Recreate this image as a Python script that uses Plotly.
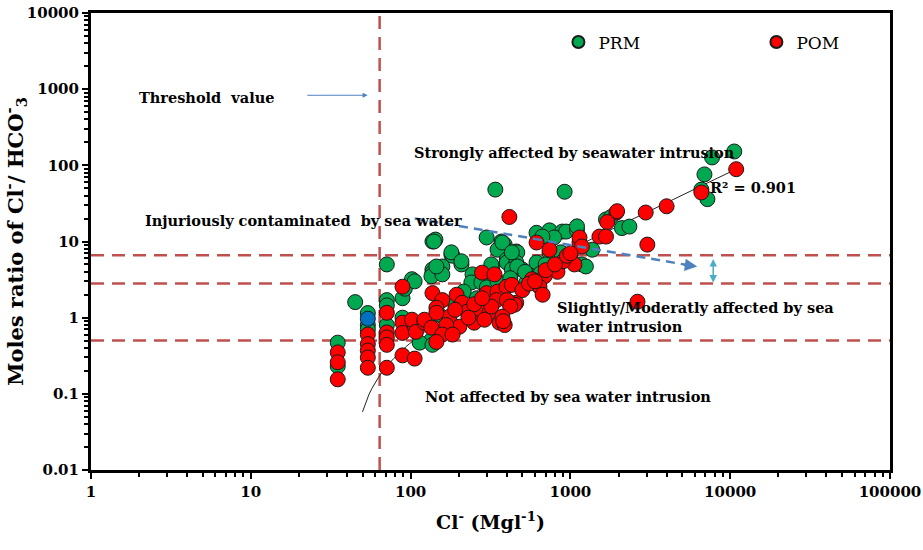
import math
import numpy as np
import plotly.graph_objects as go

# ---------------- data ----------------
prm_cl = [35, 35, 45, 54, 54, 54, 71, 71, 71, 71, 89, 89, 92, 102, 106,
          137, 143, 140, 137, 137, 135, 158, 158, 145, 180, 183, 180, 208, 208,
          244, 240, 277, 215, 233, 135, 114, 137,
          339, 920,
          299, 388, 370, 385, 350, 458, 465, 400, 400, 325, 320, 458, 430, 500, 465, 375, 430,
          614, 740, 740, 890, 940, 1100, 1100, 790, 668,
          1370, 740, 614, 1180, 1250, 870, 1000,
          575, 575, 530,
          1670, 1800, 2100, 2340,
          10600, 7700, 6900, 6600, 7200,
          150, 190, 260, 300, 350, 420, 520, 650, 700, 800]
prm_ratio = [0.47, 0.23, 1.6, 1.15, 0.8, 0.7, 5.0, 1.7, 1.45, 0.8, 1.8, 1.0, 2.4, 3.2, 3.0,
             10, 10.6, 10, 4.3, 3.9, 3.5, 4.7, 3.7, 4.7, 6.7, 6.5, 7.2, 5.0, 5.5,
             3.7, 2.9, 2.9, 2.2, 1.03, 0.51, 0.47, 0.44,
             48, 45,
             11.3, 9.1, 10, 8.3, 7.8, 7.4, 7.2, 5.8, 5.3, 4.7, 5.0, 5.3, 4.3, 4.3, 4.7, 9.7, 7.2,
             13, 13.5, 14, 13.5, 13.5, 14, 15.8, 11.3, 11.6,
             7.8, 7.1, 5.3, 5.0, 4.7, 7.2, 6.7,
             3.2, 3.5, 2.9,
             19.5, 21, 15, 15.7,
             152, 127, 76, 48, 36,
             1.1, 1.5, 1.8, 2.5, 3.0, 3.3, 4.0, 3.8, 5.0, 4.5]

pom_cl = [35, 35, 35,
          54, 54, 54, 54, 54,
          71, 71, 71, 71, 71,
          89, 89, 89, 89,
          106, 106, 102, 108, 122, 122,
          137, 158, 194, 145, 175, 210, 226, 270, 299, 280, 335, 350, 345, 398, 430, 458,
          311, 360, 250, 202, 167, 135, 158, 183, 145, 290, 388, 448, 145, 190,
          415,
          1940, 1700, 1520, 1140, 1140, 740, 1060, 830, 690, 575, 640, 670, 400, 420, 375, 380,
          614, 1180,
          10900, 6600, 4000, 2960, 1960, 1670, 3030,
          2630,
          500, 550, 600, 700, 900, 950, 1000, 800, 250, 230, 320, 280]
pom_ratio = [0.35, 0.26, 0.155,
             0.6, 0.45, 0.37, 0.3, 0.22,
             1.16, 0.64, 0.55, 0.44, 0.22,
             2.55, 0.86, 0.63, 0.32,
             0.76, 0.29, 0.94, 0.65, 0.86, 0.94,
             2.1, 1.7, 2.0, 1.35, 1.03, 1.57, 1.2, 1.27, 2.1, 3.9, 3.7, 2.2, 1.7, 2.55, 2.7, 1.57,
             1.16, 0.86, 0.86, 0.76, 0.8, 0.74, 0.6, 0.6, 0.48, 0.94, 0.8, 1.48, 1.16, 1.27,
             21,
             24, 18, 11.6, 9.7, 11.3, 7.8, 5.0, 4.0, 3.5, 3.2, 2.55, 2.0, 1.7, 1.4, 1.03, 0.9,
             9.7, 8.6,
             89, 44, 29, 24, 25, 11.6, 9.1,
             1.62,
             2.3, 2.8, 3.0, 4.2, 5.5, 6.5, 7.0, 5.0, 1.5, 1.0, 1.4, 1.8]

blue_cl = [54]
blue_ratio = [0.97]

# linear trend line (R² = 0.901): ratio = slope * Cl + intercept
trend_slope = 0.0082
trend_intercept = -0.352
trend_range = [50, 10900]

threshold_cl = [64]
ratio_limits = [0.5, 2.8, 6.6]

x_tickvals = [1, 10, 100, 1000, 10000, 100000]
x_ticktext = ["1", "10", "100", "1000", "10000", "100000"]
y_tickvals = [0.01, 0.1, 1, 10, 100, 1000, 10000]
y_ticktext = ["0.01", "0.1", "1", "10", "100", "1000", "10000"]

# ---------------- figure ----------------
FONT = "DejaVu Serif"
GREEN = "#00A84F"
RED = "#FF0000"
BLUE = "#0070C0"
DASHRED = "#C0504D"

fig = go.Figure()

tx = np.logspace(math.log10(trend_range[0]), math.log10(trend_range[1]), 120)
ty = trend_slope * tx + trend_intercept
fig.add_trace(go.Scatter(x=tx, y=ty, mode="lines",
                         line=dict(color="#222222", width=1), showlegend=False,
                         hoverinfo="skip"))

fig.add_trace(go.Scatter(x=prm_cl, y=prm_ratio, mode="markers", name="PRM",
                         marker=dict(color=GREEN, size=15,
                                     line=dict(color="#1a1a1a", width=1))))
fig.add_trace(go.Scatter(x=pom_cl, y=pom_ratio, mode="markers", name="POM",
                         marker=dict(color=RED, size=15,
                                     line=dict(color="#1a1a1a", width=1))))
fig.add_trace(go.Scatter(x=blue_cl, y=blue_ratio, mode="markers", showlegend=False,
                         marker=dict(color=BLUE, size=15,
                                     line=dict(color="#1a1a1a", width=1))))

# dashed threshold lines
for t in threshold_cl:
    fig.add_shape(type="line", xref="x", yref="paper", x0=t, x1=t, y0=0, y1=1,
                  line=dict(color=DASHRED, width=2.5, dash="13px,8px"), layer="below")
for r in ratio_limits:
    fig.add_shape(type="line", xref="paper", yref="y", x0=0, x1=1, y0=r, y1=r,
                  line=dict(color=DASHRED, width=2.5, dash="13px,8px"), layer="below")

# blue dashed arrow
arr_tail = (106, 20.1)
arr_head = (6220, 4.69)
fig.add_shape(type="line", xref="x", yref="y", x0=arr_tail[0], y0=arr_tail[1],
              x1=5600, y1=4.85, line=dict(color="#4F81BD", width=2.5, dash="9px,6px"))
fig.add_annotation(x=math.log10(arr_head[0]), y=math.log10(arr_head[1]),
                   ax=math.log10(5000), ay=math.log10(5.0), axref="x", ayref="y",
                   xref="x", yref="y", text="", showarrow=True, arrowhead=2,
                   arrowsize=1, arrowwidth=2.5, arrowcolor="#4F81BD")

# cyan double arrow
fig.add_annotation(x=math.log10(7830), y=math.log10(2.89),
                   ax=math.log10(7830), ay=math.log10(6.15), axref="x", ayref="y",
                   xref="x", yref="y", text="", showarrow=True, arrowhead=2,
                   startarrowhead=2, arrowside="end+start", arrowsize=1,
                   startarrowsize=1, arrowwidth=1.5, arrowcolor="#4BACC6")

# threshold arrow
fig.add_annotation(x=1.731, y=2.92, ax=1.344, ay=2.92, axref="x", ayref="y",
                   xref="x", yref="y", text="", showarrow=True, arrowhead=2,
                   arrowsize=1, arrowwidth=1, arrowcolor="#4F81BD")

tf = dict(family=FONT, size=14.5, color="black", weight="bold")
texts = [
    ("Threshold  value", 0.725, 2.895, "center"),
    ("Strongly affected by seawater intrusion", 3.025, 2.171, "center"),
    ("Injuriously contaminated  by sea water", 1.331, 1.276, "center"),
    ("R² = 0.901", 4.144, 1.71, "center"),
    ("Not affected by sea water intrusion", 2.988, -1.04, "center"),
]
for t, x, y, anc in texts:
    fig.add_annotation(x=x, y=y, xref="x", yref="y", text=t, showarrow=False,
                       font=tf, xanchor=anc, yanchor="middle")
fig.add_annotation(x=2.9, y=0.013, xref="x", yref="y",
                   text="Slightly/Moderatly affected by sea<br>water intrusion",
                   showarrow=False, font=tf, xanchor="left", yanchor="middle",
                   align="left")

axis_common = dict(showline=True, linecolor="black", linewidth=3, mirror=True,
                   showgrid=False, zeroline=False, ticks="outside", ticklen=6,
                   tickwidth=2, tickcolor="black",
                   tickfont=dict(family=FONT, size=15, color="black", weight="bold"))

x_minor = [d * m for d in [1, 10, 100, 1000, 10000] for m in range(2, 10)]
y_minor = [d * m for d in [0.01, 0.1, 1, 10, 100, 1000] for m in range(2, 10)]

fig.update_xaxes(type="log", range=[0, 5], tickvals=x_tickvals, ticktext=x_ticktext,
                 minor=dict(tickvals=x_minor, ticks="outside", ticklen=4, tickwidth=2,
                            tickcolor="black"),
                 title=dict(text="Cl<sup>-</sup> (Mgl<sup>-1</sup>)", standoff=16,
                            font=dict(family=FONT, size=19, color="black", weight="bold")),
                 **axis_common)
fig.update_yaxes(type="log", range=[-2, 4], tickvals=y_tickvals, ticktext=y_ticktext,
                 minor=dict(tickvals=y_minor, ticks="outside", ticklen=4, tickwidth=2,
                            tickcolor="black"),
                 title=dict(text="Moles ratio of Cl<sup>-</sup>/ HCO<sup>-</sup><sub>3</sub>",
                            standoff=8,
                            font=dict(family=FONT, size=21, color="black", weight="bold")),
                 **axis_common)

fig.update_layout(
    width=923, height=550,
    margin=dict(l=91, r=33, t=13, b=80, autoexpand=False),
    paper_bgcolor="white", plot_bgcolor="white",
    legend=dict(orientation="h", x=0.585, y=0.975, xanchor="left", yanchor="top",
                entrywidth=153, entrywidthmode="pixels", itemsizing="constant",
                font=dict(family=FONT, size=17, color="black"),
                bgcolor="rgba(0,0,0,0)"),
)

fig.write_html("out.html")
